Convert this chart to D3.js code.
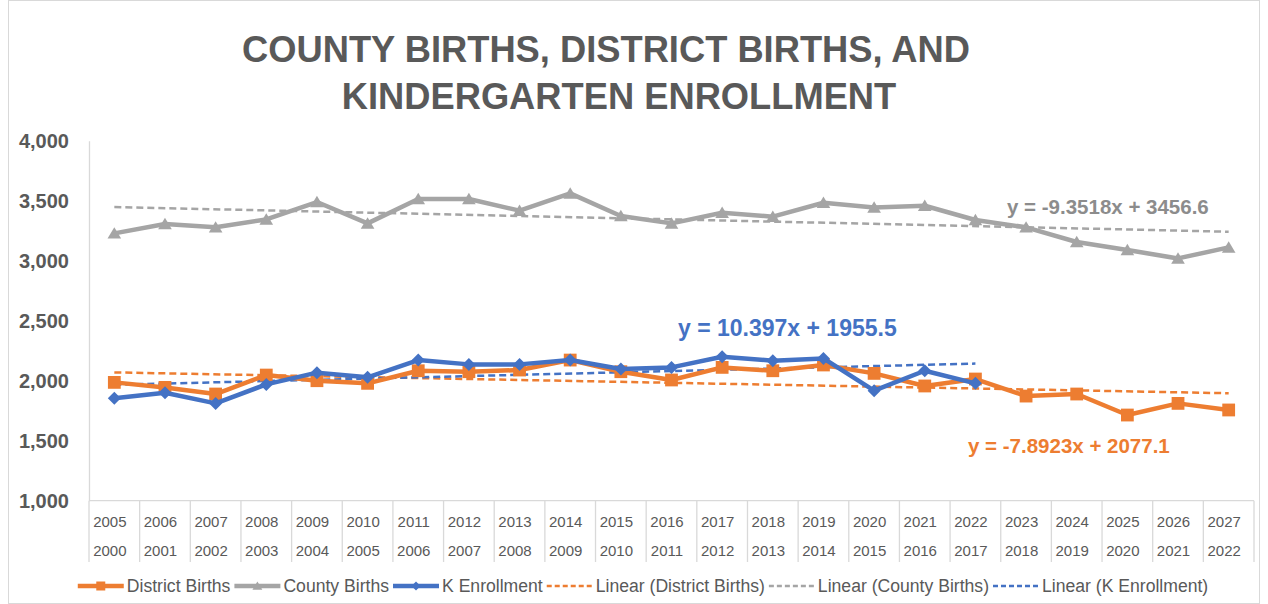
<!DOCTYPE html>
<html>
<head>
<meta charset="utf-8">
<script src="https://cdn.jsdelivr.net/npm/d3@7"></script>
<style>
  body { margin: 0; background: #fff; }
  svg { display: block; font-family: "Liberation Sans", Arial, sans-serif; }
</style>
</head>
<body>
<div id="chart"></div>
<script>
// categories (two-level axis: top row / bottom row)
var years = ["2005","2006","2007","2008","2009","2010","2011","2012","2013","2014","2015","2016",
             "2017","2018","2019","2020","2021","2022","2023","2024","2025","2026","2027"];
var birthYears = ["2000","2001","2002","2003","2004","2005","2006","2007","2008","2009","2010","2011",
                  "2012","2013","2014","2015","2016","2017","2018","2019","2020","2021","2022"];

// series values
var districtBirths = [1986,1944,1889,2047,2000,1978,2083,2075,2089,2172,2075,2006,
                      2111,2083,2131,2061,1956,2014,1872,1889,1714,1811,1756];
var countyBirths = [3228,3306,3278,3344,3489,3311,3514,3514,3417,3561,3372,3311,
                    3400,3367,3483,3444,3458,3339,3278,3156,3089,3019,3111];
var kEnrollment = [1853,1900,1811,1969,2067,2028,2172,2136,2136,2172,2097,2111,
                   2200,2167,2186,1917,2083,1978];

// linear trend equations shown on the chart
var trendSlopes = [-7.8923, -9.3518, 10.397];
var trendIntercepts = [2077.1, 3456.6, 1955.5];
var trendLabels = ["y = -7.8923x + 2077.1", "y = -9.3518x + 3456.6", "y = 10.397x + 1955.5"];

var yTicks = [1000, 1500, 2000, 2500, 3000, 3500, 4000];

var seriesNames = ["District Births", "County Births", "K Enrollment"];
var colors = ["#ED7D31", "#A5A5A5", "#4472C4"];
var shapes = ["square", "triangle", "diamond"];

var W = 1268, H = 604;
var plotLeft = 89, plotRight = 1254, plotTop = 140.7, plotBottom = 500.7;

var svg = d3.select("#chart").append("svg")
    .attr("width", W)
    .attr("height", H);

svg.append("rect")
    .attr("x", 8.5).attr("y", 0.5)
    .attr("width", W - 17).attr("height", H - 1)
    .attr("fill", "#fff")
    .attr("stroke", "#D9D9D9");

// title
svg.append("text")
    .attr("x", 606).attr("y", 62)
    .attr("text-anchor", "middle")
    .attr("font-size", 36.3).attr("font-weight", "bold")
    .attr("fill", "#595959")
    .text("COUNTY BIRTHS, DISTRICT BIRTHS, AND");
svg.append("text")
    .attr("x", 619).attr("y", 109)
    .attr("text-anchor", "middle")
    .attr("font-size", 36.3).attr("font-weight", "bold")
    .attr("fill", "#595959")
    .text("KINDERGARTEN ENROLLMENT");

var x = d3.scaleBand().domain(years).range([plotLeft, plotRight]);
var y = d3.scaleLinear().domain([1000, 4000]).range([plotBottom, plotTop]);
function cx(i) { return x(years[i]) + x.bandwidth() / 2; }

// y axis
var yAxis = svg.append("g")
    .attr("transform", "translate(" + plotLeft + ",0)")
    .call(d3.axisLeft(y).tickValues(yTicks).tickFormat(d3.format(",")).tickSize(0).tickPadding(20));
yAxis.select(".domain").attr("stroke", "#D9D9D9").attr("stroke-width", 1.3);
yAxis.selectAll("text")
    .attr("font-size", 20).attr("font-weight", "bold")
    .attr("font-family", "Liberation Sans, Arial, sans-serif")
    .attr("fill", "#595959");

// x axis: baseline, dividers and two label rows
svg.append("line")
    .attr("x1", plotLeft).attr("x2", plotRight)
    .attr("y1", plotBottom).attr("y2", plotBottom)
    .attr("stroke", "#D9D9D9").attr("stroke-width", 1.3);
svg.selectAll(".divider")
    .data(years.concat(["end"]))
  .enter().append("line")
    .attr("class", "divider")
    .attr("x1", function(d, i) { return plotLeft + i * x.bandwidth(); })
    .attr("x2", function(d, i) { return plotLeft + i * x.bandwidth(); })
    .attr("y1", plotBottom).attr("y2", 562)
    .attr("stroke", "#D9D9D9").attr("stroke-width", 1.3);

svg.selectAll(".xrow1")
    .data(years)
  .enter().append("text")
    .attr("x", function(d, i) { return cx(i) - 4.5; })
    .attr("y", 527)
    .attr("text-anchor", "middle")
    .attr("font-size", 15).attr("fill", "#595959")
    .text(function(d) { return d; });
svg.selectAll(".xrow2")
    .data(birthYears)
  .enter().append("text")
    .attr("x", function(d, i) { return cx(i) - 4.5; })
    .attr("y", 556)
    .attr("text-anchor", "middle")
    .attr("font-size", 15).attr("fill", "#595959")
    .text(function(d) { return d; });

var allSeries = [districtBirths, countyBirths, kEnrollment];

function markerPath(shape, s) {
  if (shape === "square") return "M" + (-s) + "," + (-s) + "h" + (2 * s) + "v" + (2 * s) + "h" + (-2 * s) + "Z";
  if (shape === "triangle") return "M0," + (-s) + "L" + (s * 1.1) + "," + (s * 0.85) + "L" + (-s * 1.1) + "," + (s * 0.85) + "Z";
  return "M0," + (-s) + "L" + s + ",0L0," + s + "L" + (-s) + ",0Z";
}
var markerSize = [6.4, 6.2, 6.5];

// trend lines (dashed)
allSeries.forEach(function(vals, k) {
  var n = vals.length;
  svg.append("line")
      .attr("x1", cx(0)).attr("x2", cx(n - 1))
      .attr("y1", y(trendSlopes[k] * 1 + trendIntercepts[k]))
      .attr("y2", y(trendSlopes[k] * n + trendIntercepts[k]))
      .attr("stroke", colors[k]).attr("stroke-width", 2.5)
      .attr("stroke-dasharray", "7,4");
});

// series lines with markers
var line = d3.line()
    .x(function(d, i) { return cx(i); })
    .y(function(d) { return y(d); });

allSeries.forEach(function(vals, k) {
  svg.append("path")
      .datum(vals)
      .attr("d", line)
      .attr("fill", "none")
      .attr("stroke", colors[k])
      .attr("stroke-width", 4.5)
      .attr("stroke-linejoin", "round");
  svg.selectAll(".m" + k)
      .data(vals)
    .enter().append("path")
      .attr("class", "m" + k)
      .attr("transform", function(d, i) { return "translate(" + cx(i) + "," + y(d) + ")"; })
      .attr("d", markerPath(shapes[k], markerSize[k]))
      .attr("fill", colors[k]);
});

// trend equation labels
var eqPos = [[968, 452.5, 20.5], [1007, 213.5, 20.5], [678, 336, 23]];
trendLabels.forEach(function(t, k) {
  svg.append("text")
      .attr("x", eqPos[k][0]).attr("y", eqPos[k][1])
      .attr("font-size", eqPos[k][2]).attr("font-weight", "bold")
      .attr("fill", k === 1 ? "#8C8C8C" : colors[k])
      .text(t);
});

// legend
var legendItems = seriesNames.map(function(name, k) { return {name: name, k: k, dashed: false}; })
  .concat(seriesNames.map(function(name, k) { return {name: "Linear (" + name + ")", k: k, dashed: true}; }));

var legend = svg.append("g");
var lx = 0, ly = 586;
legendItems.forEach(function(item) {
  var g = legend.append("g").attr("transform", "translate(" + lx + "," + ly + ")");
  g.append("line")
      .attr("x1", 0).attr("x2", 46)
      .attr("stroke", colors[item.k])
      .attr("stroke-width", item.dashed ? 2.5 : 4.5)
      .attr("stroke-dasharray", item.dashed ? "5,3" : null);
  if (!item.dashed) {
    g.append("path")
        .attr("transform", "translate(23,0)")
        .attr("d", markerPath(shapes[item.k], 4.5))
        .attr("fill", colors[item.k]);
  }
  var t = g.append("text")
      .attr("x", 49).attr("dy", "0.35em")
      .attr("font-size", 17.6).attr("fill", "#595959")
      .text(item.name);
  lx += 49 + t.node().getComputedTextLength() + 4;
});
var lw = lx - 4;
legend.attr("transform", "translate(" + (643 - lw / 2) + ",0)");
</script>
</body>
</html>
